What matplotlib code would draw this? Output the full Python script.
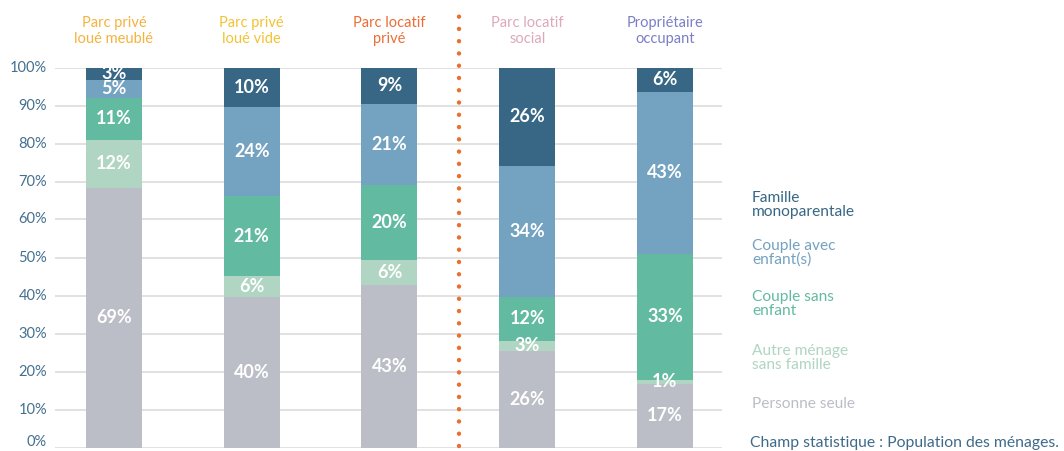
import matplotlib
matplotlib.use("Agg")
import matplotlib.pyplot as plt
import matplotlib.transforms as mtransforms
import numpy as np

plt.rcParams['font.family'] = ['Lato', 'DejaVu Sans']

categories = ["Parc privé\nloué meublé", "Parc privé\nloué vide", "Parc locatif\nprivé",
              "Parc locatif\nsocial", "Propriétaire\noccupant"]
cat_colors = ["#F5B23E", "#F3C233", "#EB6E34", "#DDA9BA", "#7A7FC6"]

series = ["Personne seule", "Autre ménage\nsans famille", "Couple sans\nenfant",
          "Couple avec\nenfant(s)", "Famille\nmonoparentale"]
series_colors = ["#BBBEC6", "#B0D5C3", "#62BBA1", "#74A2C1", "#376784"]

# shares (%) per series, per category
personne_seule = [68.4, 39.7, 42.8, 25.5, 16.7]
autre_menage = [12.6, 5.4, 6.5, 2.6, 1.1]
couple_sans = [10.9, 21.1, 19.8, 11.5, 33.2]
couple_avec = [4.9, 23.5, 21.3, 34.5, 42.6]
monoparentale = [3.2, 10.3, 9.6, 25.9, 6.4]

# printed labels (%)
lab_personne_seule = [69, 40, 43, 26, 17]
lab_autre_menage = [12, 6, 6, 3, 1]
lab_couple_sans = [11, 21, 20, 12, 33]
lab_couple_avec = [5, 24, 21, 34, 43]
lab_monoparentale = [3, 10, 9, 26, 6]

values = [personne_seule, autre_menage, couple_sans, couple_avec, monoparentale]
labels = [lab_personne_seule, lab_autre_menage, lab_couple_sans, lab_couple_avec, lab_monoparentale]

yticks = [0, 10, 20, 30, 40, 50, 60, 70, 80, 90, 100]

fig = plt.figure(figsize=(10.64, 4.51), dpi=100)
ax = fig.add_axes([55/1064, 1 - 447.5/451, (722-55)/1064, 380/451])

x = np.arange(len(categories))
bottom = np.zeros(len(categories))
for vals, labs, col in zip(values, labels, series_colors):
    vals = np.array(vals)
    ax.bar(x, vals, bottom=bottom, width=0.407, color=col, zorder=3)
    for xi, b, v, l in zip(x, bottom, vals, labs):
        ax.text(xi, b + v / 2, f"{l}%", ha="center", va="center", color="white",
                fontsize=13, fontweight="bold", zorder=4)
    bottom += vals

ax.set_xlim(-0.428, 4.414)
ax.set_ylim(0, 100)
ax.set_yticks([])
ax.set_xticks([])
for t in yticks:
    ax.axhline(t, color="#DEDEDE", lw=1.3, zorder=1)
    off = mtransforms.ScaledTranslation(-8/100, (5 if t == 0 else 0)/100, fig.dpi_scale_trans)
    ax.text(0, t, f"{t}%", transform=ax.get_yaxis_transform() + off,
            ha="right", va="center", color="#44708F", fontsize=10.5, clip_on=False)
for s in ax.spines.values():
    s.set_visible(False)

# category headers
for xi, (c, col) in enumerate(zip(categories, cat_colors)):
    ax.text(xi, 109.6, c, ha="center", va="center", color=col, fontsize=10.5,
            linespacing=1.15, clip_on=False)

# dotted separator
ax.plot([2.503, 2.503], [0.4, 113.8], color="#E9712F", lw=3.2,
        linestyle=(0, (0.01, 2.75)), dash_capstyle="round", clip_on=False, zorder=5)

# legend as text (top to bottom)
leg_y = [205, 253, 304, 358, 404]
for name, col, yy in zip(series[::-1], series_colors[::-1], leg_y):
    fig.text(752/1064, 1 - yy/451, name, ha="left", va="center", color=col,
             fontsize=11.2, linespacing=0.95)

fig.text(750/1064, 1 - 443/451, "Champ statistique : Population des ménages.",
         ha="left", va="center", color="#3E6A8A", fontsize=11.3)

fig.savefig("out.png", dpi=100, facecolor="white")
